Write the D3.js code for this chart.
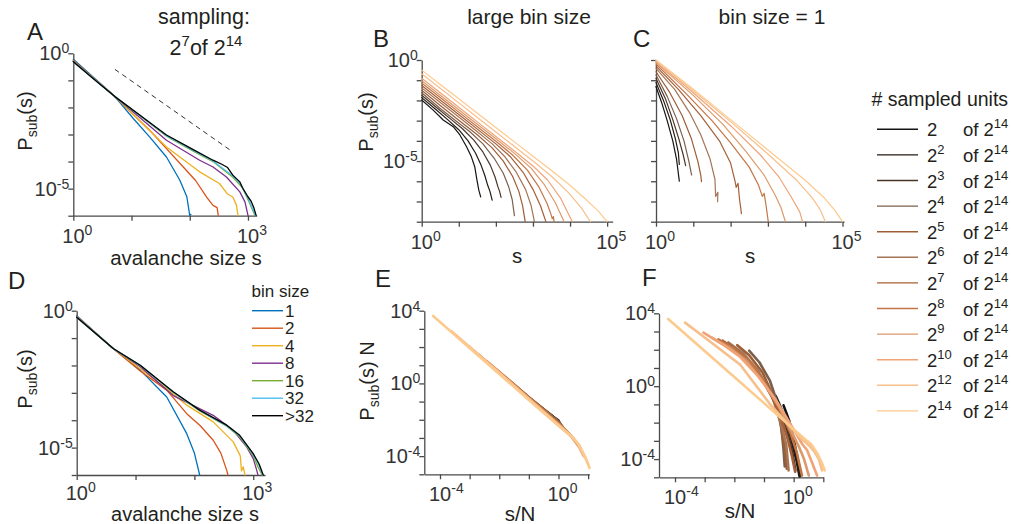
<!DOCTYPE html>
<html><head><meta charset="utf-8">
<script src="https://cdn.jsdelivr.net/npm/d3@7"></script>
<style>
body{margin:0;background:#fff}
svg{display:block}
text{font-family:Arial,"Liberation Sans",Helvetica,sans-serif;fill:#231f20}
</style>
</head><body>
<script>
// ---------------- DATA (log10 s, log10 P) ----------------
const unitExps = [1,2,3,4,5,6,7,8,9,10,12,14];
const unitColors = ["#141414","#231a12","#4b3526","#7b5f4d","#9d5d35","#a47556","#a65f38","#c47545","#dc9a6a","#f0a377","#f7bf8b","#fdca8e"];
const binLabels = ["1","2","4","8","16","32",">32"];
const binColors = ["#0072BD","#D95319","#EDB120","#7E2F8E","#77AC30","#4DBEEE","#000000"];

// Panel A: sampling 2^7 of 2^14, different bin sizes
const aBin1  = [[0,-0.22],[0.714,-1.6],[1.03,-2.41],[1.31,-3.09],[1.6,-3.83],[1.83,-4.69],[1.95,-5.3],[2.0,-5.99],[2.02,-5.95]];
const aBin2  = [[0,-0.26],[0.714,-1.6],[1.0,-2.2],[1.31,-2.84],[1.6,-3.52],[1.94,-4.32],[2.1,-4.7],[2.29,-5.31],[2.4,-5.62],[2.47,-5.7],[2.49,-5.99]];
const aBin4  = [[0,-0.28],[0.714,-1.6],[1.05,-2.3],[1.6,-3.46],[2.17,-4.38],[2.51,-4.81],[2.65,-5.2],[2.74,-5.31],[2.8,-5.6],[2.83,-5.99]];
const aBin8  = [[0,-0.29],[0.714,-1.6],[1.1,-2.3],[1.6,-3.21],[2.17,-3.95],[2.4,-4.2],[2.63,-4.57],[2.86,-5.12],[2.95,-5.5],[3.0,-5.99]];
const aBin16 = [[0,-0.3],[0.714,-1.6],[1.14,-2.3],[1.6,-3.06],[2.06,-3.62],[2.4,-4.0],[2.74,-4.58],[2.9,-4.95],[3.0,-5.4],[3.12,-5.99]];
const aBin32 = [[0,-0.31],[0.714,-1.6],[1.14,-2.29],[1.6,-3.04],[2.06,-3.59],[2.4,-3.98],[2.74,-4.53],[2.88,-4.85],[3.0,-5.35],[3.13,-5.99]];
const aBinAll= [[0,-0.31],[0.35,-0.95],[0.714,-1.6],[1.14,-2.28],[1.6,-3.02],[2.06,-3.56],[2.4,-3.95],[2.55,-4.1],[2.65,-4.22],[2.74,-4.5],[2.86,-4.75],[2.9,-4.95],[3.0,-5.3],[3.05,-5.45],[3.1,-5.7],[3.14,-5.99]];
const aPowerLaw = [[0.714,-0.593],[2.71,-3.6]];

// Panel D: full system, different bin sizes
const dBin1  = [[0,-0.18],[0.62,-1.38],[1.08,-2.17],[1.53,-3.15],[1.87,-4.49],[2.0,-5.2],[2.09,-6.0]];
const dBin2  = [[0,-0.2],[0.62,-1.38],[1.08,-2.2],[1.53,-2.9],[1.87,-3.76],[2.1,-4.2],[2.32,-4.73],[2.45,-5.2],[2.55,-5.83],[2.57,-6.0]];
const dBin4  = [[0,-0.22],[0.62,-1.38],[1.08,-2.12],[1.53,-2.85],[1.87,-3.45],[2.32,-4.06],[2.66,-4.79],[2.78,-5.3],[2.8,-5.85],[2.83,-5.7],[2.86,-6.0]];
const dBin8  = [[0,-0.23],[0.62,-1.38],[1.08,-2.05],[1.64,-3.1],[2.32,-3.82],[2.66,-4.37],[2.89,-4.98],[3.0,-5.4],[3.06,-5.83],[3.08,-6.0]];
const dBin16 = [[0,-0.24],[0.62,-1.38],[1.08,-2.0],[1.64,-2.99],[2.09,-3.66],[2.55,-4.22],[2.77,-4.6],[3.0,-5.3],[3.08,-5.7],[3.15,-6.0]];
const dBin32 = [[0,-0.24],[0.62,-1.38],[1.08,-1.99],[1.64,-2.97],[2.09,-3.64],[2.55,-4.2],[2.77,-4.57],[3.0,-5.25],[3.1,-5.65],[3.16,-6.0]];
const dBinAll= [[0,-0.24],[0.62,-1.38],[1.08,-1.99],[1.64,-2.96],[2.09,-3.63],[2.55,-4.18],[2.77,-4.55],[3.0,-5.22],[3.1,-5.6],[3.17,-6.0]];

// Panel B: large bin size, 12 sampling sizes (2 ... 2^14)
const panelB = [
 [[0,-1.98],[0.31,-2.48],[0.58,-2.97],[0.85,-3.3],[1.03,-3.71],[1.21,-4.29],[1.34,-4.79],[1.43,-5.28],[1.49,-5.94],[1.54,-6.44],[1.59,-6.77]],
 [[0,-1.86],[0.35,-2.4],[0.7,-2.95],[1.0,-3.45],[1.25,-4.0],[1.45,-4.6],[1.6,-5.2],[1.7,-5.7],[1.78,-6.2],[1.84,-6.5],[1.9,-6.93]],
 [[0,-1.74],[0.4,-2.35],[0.8,-2.95],[1.1,-3.4],[1.4,-3.95],[1.65,-4.55],[1.85,-5.2],[1.98,-5.8],[2.06,-6.3],[2.1,-6.5],[2.14,-6.8]],
 [[0,-1.62],[0.5,-2.4],[0.9,-2.98],[1.3,-3.55],[1.65,-4.15],[1.95,-4.85],[2.2,-5.6],[2.35,-6.3],[2.44,-6.9],[2.5,-7.7]],
 [[0,-1.5],[0.5,-2.25],[1.0,-2.98],[1.5,-3.7],[1.9,-4.35],[2.2,-5.0],[2.45,-5.75],[2.62,-6.5],[2.72,-7.2],[2.79,-8]],
 [[0,-1.38],[0.5,-2.1],[1.0,-2.82],[1.5,-3.55],[1.9,-4.15],[2.25,-4.8],[2.55,-5.55],[2.8,-6.4],[2.95,-7.2],[3.04,-8]],
 [[0,-1.26],[0.5,-1.98],[1.0,-2.7],[1.5,-3.42],[2.0,-4.15],[2.4,-4.8],[2.75,-5.6],[3.0,-6.4],[3.2,-7.2],[3.35,-8]],
 [[0,-1.14],[0.5,-1.86],[1.0,-2.58],[1.5,-3.3],[2.0,-4.02],[2.45,-4.7],[2.85,-5.45],[3.15,-6.25],[3.38,-7.1],[3.48,-7.6],[3.52,-7.85],[3.55,-7.75],[3.57,-8]],
 [[0,-1.02],[0.5,-1.74],[1.0,-2.46],[1.5,-3.18],[2.0,-3.9],[2.5,-4.62],[2.95,-5.35],[3.3,-6.15],[3.6,-7.05],[3.84,-8]],
 [[0,-0.9],[0.5,-1.62],[1.0,-2.34],[1.5,-3.06],[2.0,-3.78],[2.5,-4.5],[3.0,-5.24],[3.4,-5.95],[3.75,-6.85],[4.06,-8]],
 [[0,-0.68],[0.5,-1.4],[1.0,-2.12],[1.5,-2.84],[2.0,-3.56],[2.5,-4.28],[3.0,-5.0],[3.5,-5.75],[3.95,-6.55],[4.3,-7.3],[4.55,-8]],
 [[0,-0.5],[0.5,-1.21],[1.0,-1.92],[1.5,-2.63],[2.0,-3.34],[2.5,-4.05],[3.0,-4.76],[3.5,-5.47],[4.0,-6.2],[4.4,-6.85],[4.75,-7.45],[5.0,-8]]
];

// Panel C: bin size = 1
const panelC = [
 [[0,-1.32],[0.15,-2.1],[0.3,-3.0],[0.45,-4.0],[0.55,-4.9],[0.625,-5.99]],
 [[0,-1.12],[0.2,-2.0],[0.38,-2.95],[0.52,-3.9],[0.6,-4.6],[0.625,-5.17]],
 [[0,-0.91],[0.25,-1.9],[0.45,-2.95],[0.62,-3.95],[0.73,-4.7],[0.795,-5.23]],
 [[0,-0.74],[0.3,-1.8],[0.55,-2.9],[0.75,-4.0],[0.88,-5.0],[0.955,-5.69]],
 [[0,-0.58],[0.35,-1.55],[0.7,-2.75],[0.95,-3.9],[1.12,-5.0],[1.2,-5.7],[1.22,-6.02]],
 [[0,-0.41],[0.5,-1.45],[0.9,-2.6],[1.2,-3.7],[1.45,-4.9],[1.58,-5.9],[1.6,-6.75],[1.66,-6.55],[1.65,-7.01]],
 [[0,-0.3],[0.6,-1.45],[1.2,-2.75],[1.7,-4.0],[2.0,-5.1],[2.12,-6.0],[2.15,-6.3],[2.2,-6.1],[2.24,-6.9],[2.27,-7.3],[2.29,-7.6]],
 [[0,-0.2],[0.8,-1.65],[1.5,-3.0],[2.0,-4.1],[2.5,-5.3],[2.75,-6.2],[2.85,-6.75],[2.9,-6.6],[2.95,-7.2],[3.01,-8]],
 [[0,-0.13],[1,-1.75],[1.8,-3.2],[2.4,-4.5],[2.9,-5.7],[3.2,-6.7],[3.35,-7.3],[3.47,-8]],
 [[0,-0.08],[1,-1.62],[2,-3.25],[2.8,-4.7],[3.3,-5.8],[3.65,-6.85],[3.85,-7.5],[3.93,-8]],
 [[0,-0.03],[1,-1.52],[2,-3.05],[3,-4.65],[3.8,-6.0],[4.2,-6.85],[4.4,-7.4],[4.54,-8]],
 [[0,0],[1,-1.45],[2,-2.95],[3,-4.45],[4,-5.95],[4.5,-6.8],[4.8,-7.45],[5.0,-8]]
];

// Panel E: collapse, large bin size (log10 s/N, log10 P*N)
const panelE = [
 [[-0.3,-1.7],[-0.1,-1.95],[0.02,-2.1]],
 [[-0.6,-1.3],[-0.3,-1.7],[0,-2.05]],
 [[-0.9,-0.9],[-0.5,-1.42],[-0.2,-1.8],[0.05,-2.2]],
 [[-1.2,-0.5],[-0.8,-1.05],[-0.4,-1.6],[0,-2.08],[0.1,-2.3]],
 [[-1.5,-0.08],[-1,-0.76],[-0.5,-1.42],[0,-2.12],[0.15,-2.4]],
 [[-1.81,0.36],[-1,-0.78],[-0.5,-1.45],[0,-2.17],[0.25,-2.6]],
 [[-2.11,0.78],[-1.5,-0.06],[-0.5,-1.48],[0,-2.2],[0.3,-2.68]],
 [[-2.41,1.2],[-1.5,-0.07],[-0.5,-1.5],[0,-2.22],[0.35,-2.75],[0.55,-3.15]],
 [[-2.71,1.6],[-2,0.62],[-1,-0.82],[0,-2.25],[0.4,-2.85],[0.65,-3.4]],
 [[-3.01,2.02],[-2,0.6],[-1,-0.85],[0,-2.27],[0.45,-2.92],[0.65,-3.35],[0.85,-4.0]],
 [[-3.62,2.88],[-3,2.0],[-2,0.57],[-1,-0.87],[0,-2.3],[0.5,-3.0],[0.7,-3.4],[0.9,-4.05],[1.0,-4.45]],
 [[-4.23,3.71],[-3,1.95],[-2,0.52],[-1,-0.91],[0,-2.33],[0.5,-3.02],[0.65,-3.28],[0.8,-3.72],[0.95,-4.25],[1.05,-4.65]]
];

// Panel F: no collapse, bin size = 1
const panelF = [
 [[-0.34,-1.05],[-0.15,-1.9],[0.0,-2.9],[0.12,-3.9],[0.23,-4.9]],
 [[-0.6,-0.55],[-0.4,-1.3],[-0.2,-2.2],[-0.05,-3.1],[0.1,-4.1],[0.2,-4.95]],
 [[-0.9,-0.1],[-0.65,-0.8],[-0.4,-1.7],[-0.2,-2.6],[-0.05,-3.6],[0.06,-4.62]],
 [[-1.5,1.95],[-1.15,1.3],[-0.8,0.3],[-0.55,-0.9],[-0.42,-2.2],[-0.34,-3.5],[-0.3,-4.4]],
 [[-1.9,2.25],[-1.5,1.7],[-1.05,0.75],[-0.7,-0.5],[-0.45,-2.0],[-0.3,-3.4],[-0.23,-4.53]],
 [[-2.2,2.4],[-1.7,1.8],[-1.2,0.85],[-0.75,-0.45],[-0.45,-1.9],[-0.25,-3.2],[-0.17,-4.62]],
 [[-2.4,2.5],[-1.9,1.95],[-1.35,1.05],[-0.85,-0.15],[-0.45,-1.6],[-0.2,-2.9],[-0.05,-3.9],[0.05,-4.7]],
 [[-2.54,2.57],[-2.0,2.05],[-1.4,1.2],[-0.9,0.0],[-0.45,-1.3],[-0.1,-2.6],[0.1,-3.6],[0.28,-4.9]],
 [[-2.76,2.66],[-2.2,2.15],[-1.6,1.4],[-1.0,0.15],[-0.5,-1.1],[-0.1,-2.4],[0.2,-3.4],[0.35,-4.0],[0.51,-4.9]],
 [[-3.04,2.94],[-2.4,2.3],[-1.8,1.6],[-1.2,0.55],[-0.6,-0.75],[-0.1,-2.1],[0.3,-3.2],[0.45,-3.5],[0.6,-4.1],[0.79,-4.9]],
 [[-3.66,3.49],[-2.8,2.42],[-1.8,1.18],[-0.8,-0.98],[0.2,-2.78],[0.55,-3.3],[0.68,-3.55],[0.85,-4.0],[0.96,-4.62]],
 [[-4.23,3.69],[-3,1.93],[-2,0.5],[-1,-0.93],[-0.2,-2.07],[0.45,-3.0],[0.6,-3.2],[0.8,-3.7],[0.95,-4.2],[1.05,-4.62]]
];

// ---------------- DRAWING ----------------
const W = 1011, H = 524;
const svg = d3.select("body").append("svg").attr("width", W).attr("height", H);
const AX = "#4a4a4a";
const TICK_FS = 20, SUP_FS = 14;

function pow10Label(g, x, y, exp, anchor, dy) {
  const t = g.append("text").attr("x", x).attr("y", y)
    .attr("font-size", TICK_FS).attr("text-anchor", anchor).style("fill", "#333");
  t.append("tspan").text("10");
  t.append("tspan").attr("font-size", SUP_FS).attr("dy", dy).text(exp);
  return t;
}

function makePanel(p) {
  const x = d3.scaleLog().domain([Math.pow(10, p.xd[0]), Math.pow(10, p.xd[1])]).range([p.l, p.r]);
  const y = d3.scaleLog().domain([Math.pow(10, p.yd[0]), Math.pow(10, p.yd[1])]).range([p.b, p.t]);
  const g = svg.append("g");
  const yAxis = d3.axisLeft(y).tickValues(d3.range(p.yd[0], p.yd[1] + 1).map(e => Math.pow(10, e)))
    .tickSize(5).tickSizeOuter(0).tickFormat("");
  const xAxis = d3.axisBottom(x).tickValues(p.xt.map(e => Math.pow(10, e)))
    .tickSize(5).tickSizeOuter(0).tickFormat("");
  const ya = g.append("g").attr("transform", `translate(${p.l},0)`).call(yAxis);
  const xa = g.append("g").attr("transform", `translate(0,${p.b})`).call(xAxis);
  [ya, xa].forEach(a => {
    a.select(".domain").attr("stroke", AX).attr("stroke-width", 1.3);
    a.selectAll(".tick line").attr("stroke", AX).attr("stroke-width", 1.3);
  });
  (p.yl || []).forEach(e => {
    pow10Label(g, p.l - 4, y(Math.pow(10, e)) + 7, String(e), "end", -7);
  });
  (p.xl || []).forEach(e => {
    pow10Label(g, x(Math.pow(10, e)) - 11, p.b + (p.xlo || 27), String(e), "start", -8);
  });
  const line = d3.line().x(d => x(Math.pow(10, d[0]))).y(d => y(Math.pow(10, d[1])));
  return {g, x, y, line};
}

function drawCurves(P, curves, colors, width) {
  curves.forEach((c, i) => {
    P.g.append("path").datum(c).attr("d", P.line)
      .attr("fill", "none").attr("stroke", colors[i]).attr("stroke-width", width)
      .attr("stroke-linejoin", "round").attr("stroke-linecap", "round");
  });
}

function yLabel(x, y, extra) {
  const t = svg.append("text").attr("transform", `translate(${x},${y}) rotate(-90)`)
    .attr("text-anchor", "middle").attr("font-size", 20);
  t.append("tspan").text("P");
  t.append("tspan").attr("font-size", 14).attr("dy", 5).text("sub");
  t.append("tspan").attr("dy", -5).text("(s)" + (extra || ""));
}
function xLabel(x, y, txt, fs) {
  svg.append("text").attr("x", x).attr("y", y).attr("text-anchor", "middle")
    .attr("font-size", fs || 20.5).text(txt);
}
function letter(x, y, txt) {
  svg.append("text").attr("x", x).attr("y", y).attr("font-size", 24).text(txt);
}

// ---- Panel A
const PA = makePanel({l:73.3, r:256.7, t:53.3, b:215.7, xd:[0,3.15], yd:[-6,0], xt:[0,1,2,3], xl:[0,3], yl:[0,-5]});
drawCurves(PA, [aBin1, aBin2, aBin4, aBin8, aBin16, aBin32, aBinAll], binColors, 1.3);
PA.g.append("path").datum(aPowerLaw).attr("d", PA.line).attr("fill", "none")
  .attr("stroke", "#333").attr("stroke-width", 1).attr("stroke-dasharray", "5,4");

// ---- Panel D
const PD = makePanel({l:76.7, r:265, t:310.7, b:475, xd:[0,3.2], yd:[-6,0], xt:[0,1,2,3], xl:[0,3], yl:[0,-5], xlo:25});
drawCurves(PD, [dBin1, dBin2, dBin4, dBin8, dBin16, dBin32, dBinAll], binColors, 1.3);

// ---- Panel B
const PB = makePanel({l:421.7, r:612.7, t:60, b:221.7, xd:[0,5.15], yd:[-8,0], xt:[0,1,2,3,4,5], xl:[0,5], yl:[0,-5]});
drawCurves(PB, panelB, unitColors, 1.2);

// ---- Panel C
const PC = makePanel({l:656, r:844, t:60, b:221.7, xd:[0,5.04], yd:[-8,0], xt:[0,1,2,3,4,5], xl:[0,5], yl:[]});
drawCurves(PC, panelC, unitColors, 1.2);

// ---- Panel E
const PE = makePanel({l:424.3, r:589.3, t:310.7, b:474.3, xd:[-4.53,1.04], yd:[-5,4], xt:[-4,-3,-2,-1,0,1], xl:[-4,0], yl:[4,0,-4]});
drawCurves(PE, panelE, unitColors, 2.6);

// ---- Panel F
const PF = makePanel({l:659, r:823.3, t:313.3, b:477.3, xd:[-4.54,1.0], yd:[-5,4], xt:[-4,-3,-2,-1,0,1], xl:[-4,0], yl:[4,0,-4]});
drawCurves(PF, panelF, unitColors, 2.6);

// ---- axis titles
yLabel(32, 121); yLabel(373, 122); yLabel(32, 379); yLabel(374, 381, " N");
xLabel(186, 265, "avalanche size s");
xLabel(185, 521, "avalanche size s", 20);
xLabel(517, 263, "s");
xLabel(750, 263, "s");
xLabel(520, 521, "s/N");
xLabel(740, 518, "s/N");

// ---- panel letters
letter(27, 39.5, "A"); letter(373, 47, "B"); letter(633, 47, "C");
letter(8, 289, "D"); letter(375, 287, "E"); letter(642, 286, "F");

// ---- column titles
svg.append("text").attr("x", 204).attr("y", 24).attr("text-anchor", "middle").attr("font-size", 21.5).text("sampling:");
(function(){
  const t = svg.append("text").attr("x", 206).attr("y", 55).attr("text-anchor", "middle").attr("font-size", 21.5);
  t.append("tspan").text("2");
  t.append("tspan").attr("font-size", 15).attr("dy", -9).text("7");
  t.append("tspan").attr("dy", 9).text("of 2");
  t.append("tspan").attr("font-size", 15).attr("dy", -9).text("14");
})();
svg.append("text").attr("x", 529).attr("y", 24).attr("text-anchor", "middle").attr("font-size", 21).text("large bin size");
svg.append("text").attr("x", 772).attr("y", 24).attr("text-anchor", "middle").attr("font-size", 21).text("bin size = 1");

// ---- legend: sampled units
svg.append("text").attr("x", 871.5).attr("y", 106).attr("font-size", 19.5).text("# sampled units");
unitExps.forEach((e, i) => {
  const yy = 129.3 + 25.6 * i;
  svg.append("line").attr("x1", 877).attr("x2", 918).attr("y1", yy).attr("y2", yy)
    .attr("stroke", unitColors[i]).attr("stroke-width", 1.4);
  const t = svg.append("text").attr("x", 927).attr("y", yy + 7).attr("font-size", 18.5);
  t.append("tspan").text("2");
  if (e > 1) t.append("tspan").attr("font-size", 13).attr("dy", -8).text(String(e));
  const t2 = svg.append("text").attr("x", 963).attr("y", yy + 7).attr("font-size", 18.5);
  t2.append("tspan").text("of 2");
  t2.append("tspan").attr("font-size", 13).attr("dy", -8).text("14");
});

// ---- legend: bin size
svg.append("text").attr("x", 251.5).attr("y", 297).attr("font-size", 17).text("bin size");
binLabels.forEach((lab, i) => {
  const yy = 310.7 + 17.5 * i;
  svg.append("line").attr("x1", 252).attr("x2", 283).attr("y1", yy).attr("y2", yy)
    .attr("stroke", binColors[i]).attr("stroke-width", 1.4);
  svg.append("text").attr("x", 285).attr("y", yy + 6).attr("font-size", 17).text(lab);
});
</script>
</body></html>
